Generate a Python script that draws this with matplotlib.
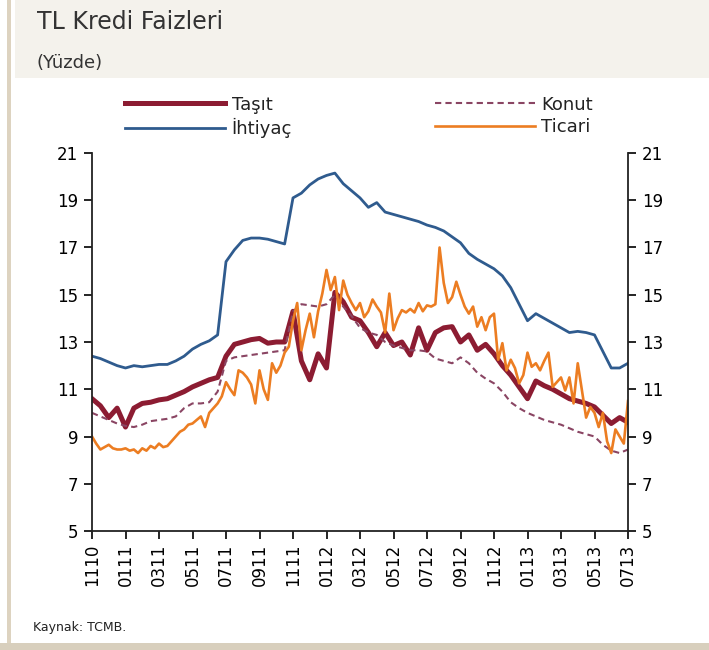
import numpy as np
import matplotlib.pyplot as plt
from matplotlib.patches import Rectangle

# months since Nov 2010, half-month steps (quarter-month for Ticari)
x_half = np.arange(0, 32.01, 0.5)
x_quarter = np.arange(0, 32.01, 0.25)

tick_labels = ["1110", "0111", "0311", "0511", "0711", "0911", "1111", "0112",
               "0312", "0512", "0712", "0912", "1112", "0113", "0313", "0513", "0713"]

ihtiyac = [12.4, 12.3, 12.15, 12.0, 11.9, 12.0, 11.95, 12.0, 12.05, 12.05,
           12.2, 12.4, 12.7, 12.9, 13.05, 13.3, 16.4, 16.9, 17.3, 17.4,
           17.4, 17.35, 17.25, 17.15, 19.1, 19.3, 19.65, 19.9, 20.05, 20.15,
           19.7, 19.4, 19.1, 18.7, 18.9, 18.5, 18.4, 18.3, 18.2, 18.1,
           17.95, 17.85, 17.7, 17.45, 17.2, 16.75, 16.5, 16.3, 16.1, 15.8,
           15.3, 14.6, 13.9, 14.2, 14.0, 13.8, 13.6, 13.4, 13.45, 13.4,
           13.3, 12.6, 11.9, 11.9, 12.1]

tasit = [10.6, 10.3, 9.8, 10.2, 9.4, 10.2, 10.4, 10.45, 10.55, 10.6,
         10.75, 10.9, 11.1, 11.25, 11.4, 11.5, 12.4, 12.9, 13.0, 13.1,
         13.15, 12.95, 13.0, 13.0, 14.3, 12.2, 11.4, 12.5, 11.9, 15.1,
         14.7, 14.05, 13.9, 13.4, 12.8, 13.4, 12.85, 13.0, 12.45, 13.6,
         12.65, 13.4, 13.6, 13.65, 13.0, 13.3, 12.65, 12.9, 12.5, 12.0,
         11.6, 11.1, 10.6, 11.35, 11.15, 11.0, 10.8, 10.6, 10.5, 10.4,
         10.25, 9.9, 9.55, 9.8, 9.6]

konut = [10.0, 9.85, 9.7, 9.55, 9.45, 9.4, 9.5, 9.65, 9.7, 9.75,
         9.85, 10.2, 10.4, 10.4, 10.45, 10.9, 12.2, 12.35, 12.4, 12.45,
         12.5, 12.55, 12.6, 12.65, 14.3, 14.6, 14.55, 14.5, 14.6, 15.0,
         14.5, 14.1, 13.6, 13.4, 13.3, 13.0, 12.85, 12.75, 12.65, 12.65,
         12.6, 12.3, 12.2, 12.1, 12.35, 12.1, 11.7, 11.45, 11.25, 10.9,
         10.45, 10.2, 10.0, 9.85, 9.7, 9.6, 9.5, 9.35, 9.2, 9.1,
         9.0, 8.65, 8.4, 8.3, 8.45]

ticari = [9.0, 8.7, 8.45, 8.55, 8.65, 8.5, 8.45, 8.45, 8.5, 8.4,
          8.45, 8.3, 8.5, 8.4, 8.6, 8.5, 8.7, 8.55, 8.6, 8.8,
          9.0, 9.2, 9.3, 9.5, 9.55, 9.7, 9.85, 9.4, 10.0, 10.2,
          10.4, 10.7, 11.3, 11.0, 10.75, 11.8, 11.7, 11.5, 11.2, 10.4,
          11.8, 11.0, 10.55, 12.1, 11.7, 12.0, 12.55, 12.8, 13.9, 14.65,
          12.65, 13.5, 14.2, 13.2, 14.3, 15.05, 16.05, 15.2, 15.75, 14.35,
          15.6, 15.0, 14.65, 14.35, 14.65, 14.05, 14.3, 14.8, 14.5, 14.25,
          13.4, 15.05, 13.5, 14.0, 14.35, 14.25, 14.4, 14.25, 14.65, 14.3,
          14.55, 14.5, 14.6, 17.0, 15.5, 14.65, 14.9, 15.55, 15.0, 14.5,
          14.2, 14.5, 13.65, 14.05, 13.5, 14.05, 14.2, 12.25, 12.95, 11.8,
          12.25, 11.9, 11.25, 11.6, 12.55, 11.95, 12.1, 11.8, 12.2, 12.55,
          11.1, 11.3, 11.5, 10.95, 11.5, 10.4, 12.1, 10.95, 9.8, 10.25,
          10.0, 9.4, 10.0, 8.8, 8.3, 9.3, 9.0, 8.7, 10.5]

c_tasit = "#8c1c32"
c_ihtiyac = "#2f5b8e"
c_konut = "#8a4563"
c_ticari = "#ec7d22"

fig = plt.figure(figsize=(7.09, 6.5), dpi=100, facecolor="white")

# page decoration: beige title band, left rule, bottom band
fig.patches.append(Rectangle((15 / 709, 1 - 78 / 650), 1, 78 / 650, transform=fig.transFigure,
                             facecolor="#f4f2ec", edgecolor="none", zorder=0))
fig.patches.append(Rectangle((7 / 709, 0), 4 / 709, 1, transform=fig.transFigure,
                             facecolor="#ddd3c0", edgecolor="none", zorder=0))
fig.patches.append(Rectangle((0, 0), 1, 7 / 650, transform=fig.transFigure,
                             facecolor="#d8cfbd", edgecolor="none", zorder=0))

fig.text(37 / 709, 1 - 22 / 650, "TL Kredi Faizleri", fontsize=17, color="#333333",
         va="center", ha="left")
fig.text(37 / 709, 1 - 63 / 650, "(Yüzde)", fontsize=13, color="#333333",
         va="center", ha="left")
fig.text(33 / 709, 1 - 628 / 650, "Kaynak: TCMB.", fontsize=9, color="#222222",
         va="center", ha="left")

ax = fig.add_axes([92 / 709, 119 / 650, 536 / 709, 378 / 650])

l1, = ax.plot(x_half, tasit, color=c_tasit, lw=3.6, solid_joinstyle="round")
l2, = ax.plot(x_half, ihtiyac, color=c_ihtiyac, lw=2.0)
l3, = ax.plot(x_half, konut, color=c_konut, lw=1.5, ls=(0, (3, 2)))
l4, = ax.plot(x_quarter, ticari, color=c_ticari, lw=1.9)

ax.set_xlim(0, 32)
ax.set_ylim(5, 21)
ax.set_yticks(range(5, 22, 2))
ax.set_xticks(range(0, 33, 2))
ax.set_xticklabels(tick_labels, rotation=90, fontsize=12)
ax.tick_params(axis="y", labelsize=12, direction="out", length=6, width=1.2,
               left=True, right=True, labelleft=True, labelright=True, pad=4)
ax.tick_params(axis="x", direction="out", length=6, width=1.2, pad=3)
ax.spines["top"].set_visible(False)
for s in ("left", "right", "bottom"):
    ax.spines[s].set_linewidth(1.3)
    ax.spines[s].set_color("#222222")

leg = ax.legend([l1, l2, l3, l4], ["Taşıt", "İhtiyaç", "Konut", "Ticari"],
                ncol=2, frameon=False, fontsize=13, handlelength=5.55,
                columnspacing=7.9, handletextpad=0.35, labelspacing=0.25,
                borderpad=0.0, loc="center left",
                bbox_to_anchor=(33 / 536, 1 + 36 / 378), borderaxespad=0.0)
for t in leg.get_texts():
    t.set_color("#222222")

fig.savefig("out.png", dpi=100, facecolor="white")
